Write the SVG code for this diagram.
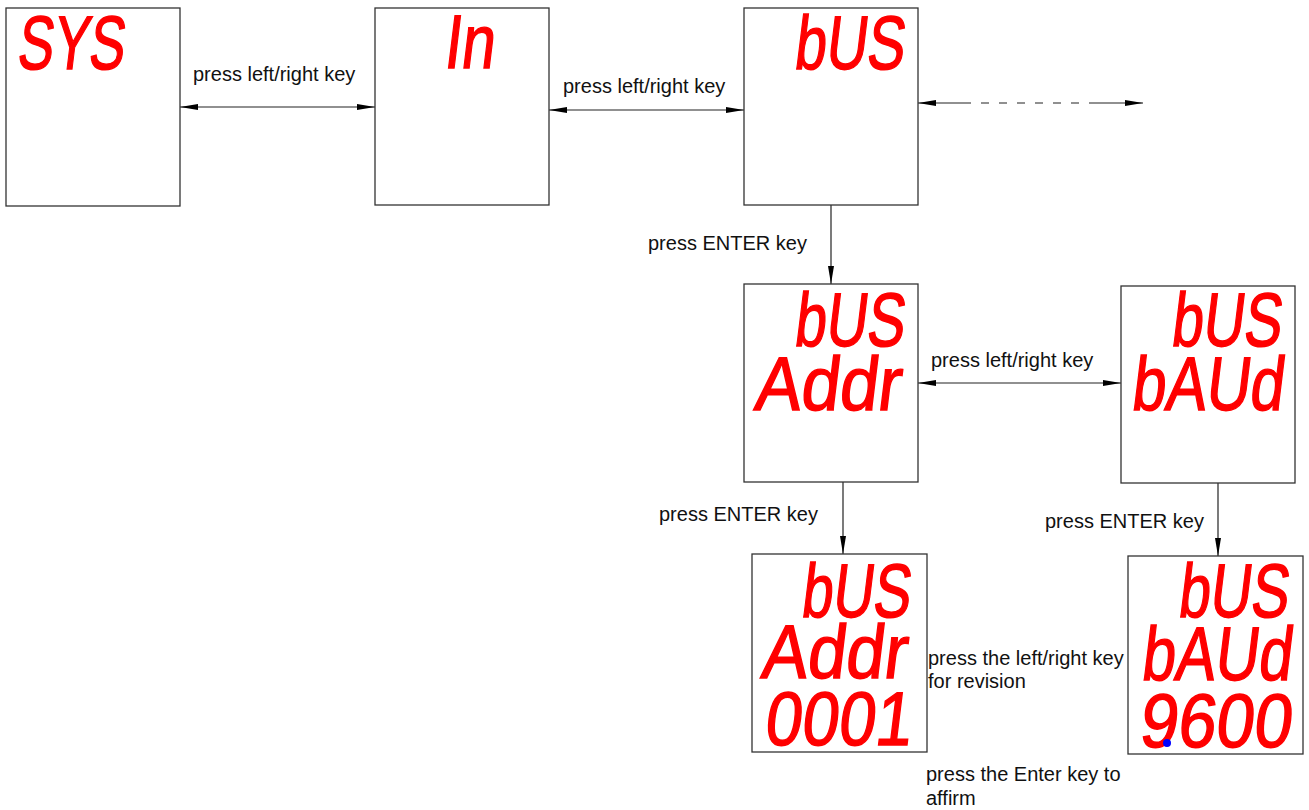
<svg xmlns="http://www.w3.org/2000/svg" width="1309" height="810" viewBox="0 0 1309 810">
<style>
.box{fill:#fff;stroke:#333;stroke-width:1.3}
.seg{font-family:"Liberation Sans",Arial,sans-serif;font-weight:normal;font-size:76px;fill:#ff0000;stroke:#ff0000;stroke-width:1.5}
.lbl{font-family:"Liberation Sans",Arial,sans-serif;font-size:20px;fill:#111}
.con{stroke:#222;stroke-width:1.2;fill:none}
</style>
<defs>
<marker id="ah" markerUnits="userSpaceOnUse" markerWidth="18" markerHeight="8" refX="18" refY="4" orient="auto-start-reverse">
<path d="M0,1 L18,4 L0,7 z" fill="#000"/>
</marker>
</defs>
<rect width="1309" height="810" fill="#fff"/>
<g id="connectors">
<line class="con" x1="180" y1="107" x2="375" y2="107" marker-start="url(#ah)" marker-end="url(#ah)"/>
<line class="con" x1="549" y1="110" x2="744" y2="110" marker-start="url(#ah)" marker-end="url(#ah)"/>
<line class="con" x1="918" y1="103" x2="963" y2="103" marker-start="url(#ah)"/>
<line class="con" x1="963" y1="103" x2="1093" y2="103" stroke-dasharray="8 10"/>
<line class="con" x1="1093" y1="103" x2="1143" y2="103" marker-end="url(#ah)"/>
<line class="con" x1="831" y1="205" x2="831" y2="284" marker-end="url(#ah)"/>
<line class="con" x1="918" y1="383" x2="1121" y2="383" marker-start="url(#ah)" marker-end="url(#ah)"/>
<line class="con" x1="843" y1="482" x2="843" y2="554" marker-end="url(#ah)"/>
<line class="con" x1="1218" y1="483" x2="1218" y2="556" marker-end="url(#ah)"/>
</g>
<g id="node-sys">
<rect class="box" x="6" y="8" width="174" height="198"/>
<text class="seg" transform="translate(16,69) skewX(-7)" textLength="107" lengthAdjust="spacingAndGlyphs">SYS</text>
</g>
<g id="node-in">
<rect class="box" x="375" y="8" width="174" height="197"/>
<text class="seg" transform="translate(443,68) skewX(-7)" textLength="50" lengthAdjust="spacingAndGlyphs">In</text>
</g>
<g id="node-bus">
<rect class="box" x="744" y="8" width="174" height="197"/>
<text class="seg" transform="translate(793,69) skewX(-7)" textLength="110" lengthAdjust="spacingAndGlyphs">bUS</text>
</g>
<g id="node-bus-addr">
<rect class="box" x="744" y="284" width="174" height="198"/>
<text class="seg" transform="translate(793,346) skewX(-7)"><tspan x="0" y="0" textLength="110" lengthAdjust="spacingAndGlyphs">bUS</tspan><tspan x="-32" y="64" textLength="146" lengthAdjust="spacingAndGlyphs">Addr</tspan></text>
</g>
<g id="node-bus-baud">
<rect class="box" x="1121" y="286" width="174" height="197"/>
<text class="seg" transform="translate(1170,346) skewX(-7)"><tspan x="0" y="0" textLength="110" lengthAdjust="spacingAndGlyphs">bUS</tspan><tspan x="-32" y="64" textLength="152" lengthAdjust="spacingAndGlyphs">bAUd</tspan></text>
</g>
<g id="node-addr-value">
<rect class="box" x="752" y="554" width="175" height="198"/>
<text class="seg" transform="translate(800,617) skewX(-7)"><tspan x="0" y="0" textLength="109" lengthAdjust="spacingAndGlyphs">bUS</tspan><tspan x="-32.5" y="61" textLength="145" lengthAdjust="spacingAndGlyphs">Addr</tspan><tspan x="-21" y="128" textLength="147" lengthAdjust="spacingAndGlyphs">0001</tspan></text>
</g>
<g id="node-baud-value">
<rect class="box" x="1128" y="556" width="175" height="198"/>
<text class="seg" transform="translate(1177,617) skewX(-7)"><tspan x="0" y="0" textLength="110" lengthAdjust="spacingAndGlyphs">bUS</tspan><tspan x="-29" y="63" textLength="150" lengthAdjust="spacingAndGlyphs">bAUd</tspan><tspan x="-23" y="130" textLength="152" lengthAdjust="spacingAndGlyphs">9600</tspan></text>
<circle cx="1167" cy="743" r="4" fill="#0000ff"/>
</g>
<g id="labels">
<text class="lbl" x="193" y="81">press left/right key</text>
<text class="lbl" x="563" y="93">press left/right key</text>
<text class="lbl" x="648" y="250">press ENTER key</text>
<text class="lbl" x="931" y="367">press left/right key</text>
<text class="lbl" x="659" y="521">press ENTER key</text>
<text class="lbl" x="1045" y="528">press ENTER key</text>
<text class="lbl" x="928" y="665">press the left/right key</text>
<text class="lbl" x="928" y="688">for revision</text>
<text class="lbl" x="926" y="781">press the Enter key to</text>
<text class="lbl" x="926" y="805">affirm</text>
</g>
</svg>
